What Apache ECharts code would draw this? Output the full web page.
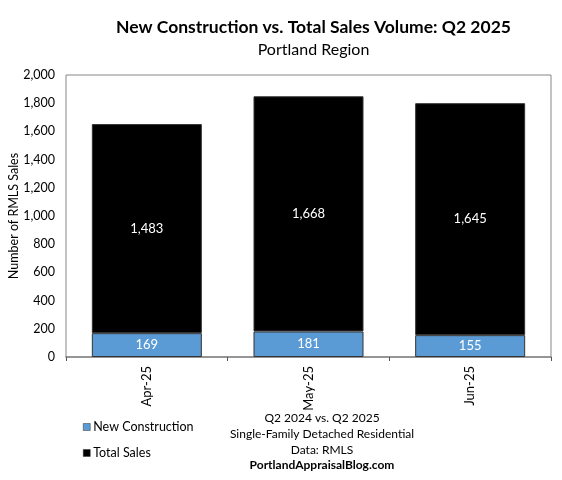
<!DOCTYPE html>
<html>
<head>
<meta charset="utf-8">
<script src="https://cdn.jsdelivr.net/npm/echarts@6/dist/echarts.min.js"></script>
<style>
html,body{margin:0;padding:0;background:#fff;}
#chart{width:562px;height:480px;}
</style>
</head>
<body>
<div id="chart"></div>
<script>
const categories = ['Apr-25', 'May-25', 'Jun-25'];
const newConstruction = [169, 181, 155];
const totalSales = [1483, 1668, 1645];
const yTicks = { min: 0, max: 2000, interval: 200 };
const seriesNames = ['New Construction', 'Total Sales'];
const footerLines = ['Q2 2024 vs. Q2 2025', 'Single-Family Detached Residential', 'Data: RMLS'];
const footerSite = 'PortlandAppraisalBlog.com';

const FONT = 'Lato, "Liberation Sans", sans-serif';
const fmt = v => v.toLocaleString('en-US');

const chart = echarts.init(document.getElementById('chart'), null, { renderer: 'canvas' });
chart.setOption({
  backgroundColor: '#fff',
  textStyle: { fontFamily: FONT },
  animation: false,
  title: [
    { text: 'New Construction vs. Total Sales Volume: Q2 2025', left: 308.5, textAlign: 'center', top: 13,
      textStyle: { fontFamily: FONT, fontSize: 17.5, fontWeight: 'bold', color: '#000' } },
    { text: 'Portland Region', left: 308.5, textAlign: 'center', top: 37,
      textStyle: { fontFamily: FONT, fontSize: 16, fontWeight: 'normal', color: '#000' } },
    { text: footerLines.join('\n'), left: 317, textAlign: 'center', top: 405,
      textStyle: { fontFamily: FONT, fontSize: 12, fontWeight: 'normal', color: '#000', lineHeight: 16 } },
    { text: footerSite, left: 317, textAlign: 'center', top: 454,
      textStyle: { fontFamily: FONT, fontSize: 12, fontWeight: 'bold', color: '#000' } }
  ],
  legend: {
    orient: 'vertical', left: 83, top: 420, padding: 0, itemWidth: 7, itemHeight: 7, itemGap: 12,
    data: seriesNames,
    textStyle: { fontFamily: FONT, fontSize: 12.5, color: '#000', lineHeight: 14, padding: [0, 0, 0, -2] },
    icon: 'rect',
    itemStyle: { borderColor: '#333', borderWidth: 0.5 }
  },
  grid: { left: 66, right: 11, top: 75, bottom: 123, show: true, borderColor: '#868686', borderWidth: 1,
          outerBoundsMode: 'none', containLabel: false },
  xAxis: {
    type: 'category', data: categories,
    axisLine: { lineStyle: { color: '#868686', width: 1.5 } },
    axisTick: { show: true, length: 4, lineStyle: { color: '#555' } },
    axisLabel: { rotate: 90, fontFamily: FONT, fontSize: 13, color: '#000', margin: 9 }
  },
  yAxis: {
    type: 'value', min: yTicks.min, max: yTicks.max, interval: yTicks.interval,
    name: 'Number of RMLS Sales', nameLocation: 'middle', nameRotate: 90, nameGap: 46,
    nameMoveOverlap: false,
    nameTextStyle: { fontFamily: FONT, fontSize: 12.5, color: '#000' },
    axisLine: { show: false }, axisTick: { show: false }, splitLine: { show: false },
    axisLabel: { fontFamily: FONT, fontSize: 12.5, color: '#000', margin: 11, formatter: v => fmt(v) }
  },
  series: [
    { name: seriesNames[0], type: 'bar', stack: 's', data: newConstruction, barWidth: 110,
      itemStyle: { color: '#5B9BD5', borderColor: '#333', borderWidth: 1 },
      label: { show: true, position: 'inside', color: '#fff', fontFamily: FONT, fontSize: 13, formatter: p => fmt(p.value) } },
    { name: seriesNames[1], type: 'bar', stack: 's', data: totalSales, barWidth: 110,
      itemStyle: { color: '#000', borderColor: '#333', borderWidth: 1 },
      label: { show: true, position: 'inside', color: '#fff', fontFamily: FONT, fontSize: 13, formatter: p => fmt(p.value) } }
  ]
});
</script>
</body>
</html>
